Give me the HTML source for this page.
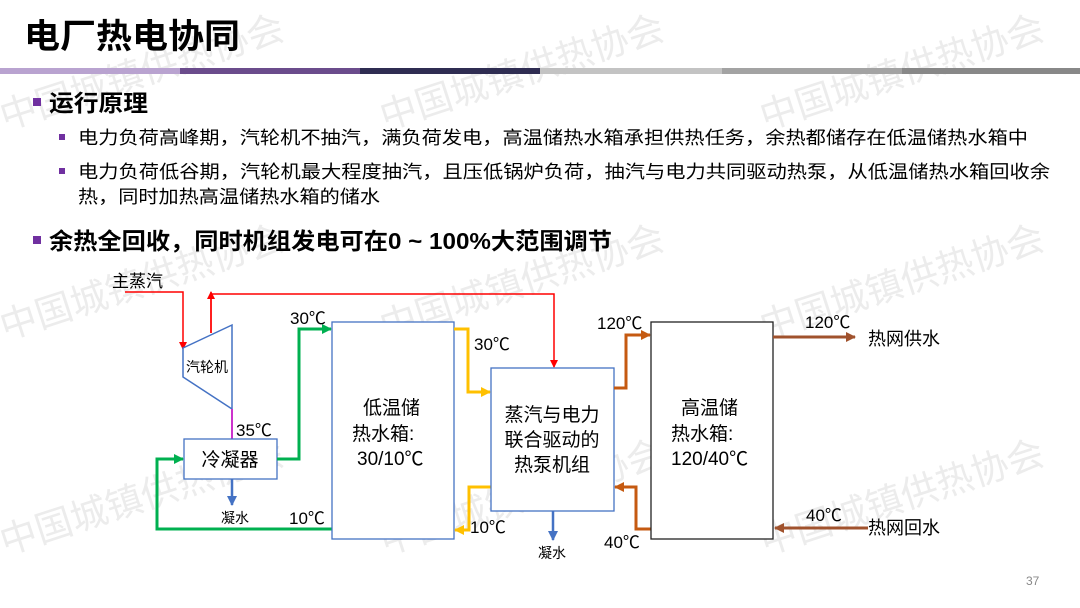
<!DOCTYPE html>
<html><head><meta charset="utf-8">
<style>
html,body{margin:0;padding:0;background:#fff;}
body{width:1080px;height:608px;position:relative;overflow:hidden;font-family:"Liberation Sans","Noto Sans CJK SC",sans-serif;}
</style></head><body>
<svg width="1080" height="608" style="position:absolute;left:0;top:0" xmlns="http://www.w3.org/2000/svg" font-family="Liberation Sans, Noto Sans CJK SC, sans-serif">
<g fill="#ececec" font-size="37">
<text transform="translate(5,130) rotate(-18)">中国城镇供热协会</text>
<text transform="translate(385,130) rotate(-18)">中国城镇供热协会</text>
<text transform="translate(765,130) rotate(-18)">中国城镇供热协会</text>
<text transform="translate(5,340) rotate(-18)">中国城镇供热协会</text>
<text transform="translate(385,340) rotate(-18)">中国城镇供热协会</text>
<text transform="translate(765,340) rotate(-18)">中国城镇供热协会</text>
<text transform="translate(5,555) rotate(-18)">中国城镇供热协会</text>
<text transform="translate(385,555) rotate(-18)">中国城镇供热协会</text>
<text transform="translate(765,555) rotate(-18)">中国城镇供热协会</text>
</g>
<rect x="0" y="68" width="180" height="6" fill="#b9a3d0"/>
<rect x="180" y="68" width="180" height="6" fill="#6b4c8c"/>
<rect x="360" y="68" width="180" height="6" fill="#2f2d52"/>
<rect x="540" y="68" width="182" height="6" fill="#c3c3c3"/>
<rect x="722" y="68" width="180" height="6" fill="#a3a3a3"/>
<rect x="902" y="68" width="178" height="6" fill="#888"/>
<text x="24" y="48" font-size="34" font-weight="bold" textLength="216" lengthAdjust="spacingAndGlyphs">电厂热电协同</text>
<rect x="33" y="98" width="8" height="8" fill="#7030a0"/>
<text x="49" y="111" font-size="23" font-weight="bold" textLength="99" lengthAdjust="spacingAndGlyphs">运行原理</text>
<rect x="59" y="134" width="6" height="6" fill="#7030a0"/>
<text x="78" y="144" font-size="18" textLength="950" lengthAdjust="spacingAndGlyphs">电力负荷高峰期，汽轮机不抽汽，满负荷发电，高温储热水箱承担供热任务，余热都储存在低温储热水箱中</text>
<rect x="59" y="168" width="6" height="6" fill="#7030a0"/>
<text x="78" y="178" font-size="18" textLength="972" lengthAdjust="spacingAndGlyphs">电力负荷低谷期，汽轮机最大程度抽汽，且压低锅炉负荷，抽汽与电力共同驱动热泵，从低温储热水箱回收余</text>
<text x="78" y="203" font-size="18" textLength="302" lengthAdjust="spacingAndGlyphs">热，同时加热高温储热水箱的储水</text>
<rect x="33" y="236" width="8" height="8" fill="#7030a0"/>
<text x="49" y="249" font-size="23" font-weight="bold" textLength="563" lengthAdjust="spacingAndGlyphs">余热全回收，同时机组发电可在0 ~ 100%大范围调节</text>
<defs>
<marker id="ar" markerWidth="8" markerHeight="8" refX="7" refY="4" orient="auto" markerUnits="userSpaceOnUse"><path d="M0,0 L8,4 L0,8 z" fill="#f00"/></marker>
<marker id="ag" markerWidth="10" markerHeight="10" refX="9" refY="5" orient="auto" markerUnits="userSpaceOnUse"><path d="M0,0 L10,5 L0,10 z" fill="#00b050"/></marker>
<marker id="ay" markerWidth="10" markerHeight="10" refX="9" refY="5" orient="auto" markerUnits="userSpaceOnUse"><path d="M0,0 L10,5 L0,10 z" fill="#ffc000"/></marker>
<marker id="ab" markerWidth="10" markerHeight="10" refX="9" refY="5" orient="auto" markerUnits="userSpaceOnUse"><path d="M0,0 L10,5 L0,10 z" fill="#4472c4"/></marker>
<marker id="ao" markerWidth="10" markerHeight="10" refX="9" refY="5" orient="auto" markerUnits="userSpaceOnUse"><path d="M0,0 L10,5 L0,10 z" fill="#c55a11"/></marker>
<marker id="ak" markerWidth="10" markerHeight="10" refX="9" refY="5" orient="auto" markerUnits="userSpaceOnUse"><path d="M0,0 L10,5 L0,10 z" fill="#a0522d"/></marker>
</defs>
<text x="112" y="287" font-size="17">主蒸汽</text>
<polyline points="125,292 183,292 183,349" fill="none" stroke="#f00" stroke-width="1.5" marker-end="url(#ar)"/>
<polyline points="211,333 211,294 554,294 554,367" fill="none" stroke="#f00" stroke-width="1.5" marker-end="url(#ar)"/>
<line x1="211" y1="333" x2="211" y2="292" stroke="#f00" stroke-width="1.5" marker-end="url(#ar)"/>
<polygon points="183,348 232,325 232,409 183,377" fill="#fff" stroke="#4472c4" stroke-width="1.5"/>
<text x="186" y="372" font-size="14">汽轮机</text>
<line x1="232" y1="409" x2="232" y2="439" stroke="#cc33cc" stroke-width="2"/>
<text x="236" y="436" font-size="17">35℃</text>
<rect x="184" y="439" width="93" height="40" fill="#fff" stroke="#4472c4" stroke-width="1.3"/>
<text x="230" y="466" font-size="19" text-anchor="middle">冷凝器</text>
<line x1="232" y1="479" x2="232" y2="505" stroke="#4472c4" stroke-width="2.5" marker-end="url(#ab)"/>
<text x="221" y="523" font-size="14">凝水</text>
<polyline points="277,459 299,459 299,329 331,329" fill="none" stroke="#00b050" stroke-width="3" marker-end="url(#ag)"/>
<polyline points="332,529 157,529 157,459 183,459" fill="none" stroke="#00b050" stroke-width="3" marker-end="url(#ag)"/>
<text x="290" y="324" font-size="17">30℃</text>
<text x="289" y="524" font-size="17">10℃</text>
<rect x="332" y="322" width="122" height="217" fill="#fff" stroke="#4472c4" stroke-width="1.3"/>
<text x="363" y="414" font-size="19">低温储</text>
<text x="352" y="440" font-size="19">热水箱:</text>
<text x="357" y="465" font-size="19">30/10℃</text>
<polyline points="454,329 468,329 468,392 490,392" fill="none" stroke="#ffc000" stroke-width="3" marker-end="url(#ay)"/>
<polyline points="491,487 469,487 469,530 455,530" fill="none" stroke="#ffc000" stroke-width="3" marker-end="url(#ay)"/>
<text x="474" y="350" font-size="17">30℃</text>
<text x="470" y="533" font-size="17">10℃</text>
<rect x="491" y="368" width="123" height="143" fill="#fff" stroke="#4472c4" stroke-width="1.3"/>
<text x="552" y="421" font-size="19" text-anchor="middle">蒸汽与电力</text>
<text x="552" y="446" font-size="19" text-anchor="middle">联合驱动的</text>
<text x="552" y="471" font-size="19" text-anchor="middle">热泵机组</text>
<line x1="553" y1="511" x2="553" y2="540" stroke="#4472c4" stroke-width="2.5" marker-end="url(#ab)"/>
<text x="538" y="558" font-size="14">凝水</text>
<polyline points="614,388 626,388 626,335 650,335" fill="none" stroke="#c55a11" stroke-width="3" marker-end="url(#ao)"/>
<polyline points="651,529 636,529 636,487 615,487" fill="none" stroke="#c55a11" stroke-width="3" marker-end="url(#ao)"/>
<text x="597" y="329" font-size="17">120℃</text>
<text x="604" y="548" font-size="17">40℃</text>
<rect x="651" y="322" width="122" height="217" fill="#fff" stroke="#222" stroke-width="1.3"/>
<text x="681" y="414" font-size="19">高温储</text>
<text x="671" y="440" font-size="19">热水箱:</text>
<text x="671" y="465" font-size="19">120/40℃</text>
<line x1="773" y1="337" x2="855" y2="337" stroke="#a0522d" stroke-width="3" marker-end="url(#ak)"/>
<line x1="868" y1="528" x2="775" y2="528" stroke="#a0522d" stroke-width="3" marker-end="url(#ak)"/>
<text x="805" y="328" font-size="17">120℃</text>
<text x="806" y="521" font-size="17">40℃</text>
<text x="868" y="345" font-size="18">热网供水</text>
<text x="868" y="534" font-size="18">热网回水</text>
<text x="1026" y="585" font-size="12" fill="#888">37</text>
</svg>
</body></html>
